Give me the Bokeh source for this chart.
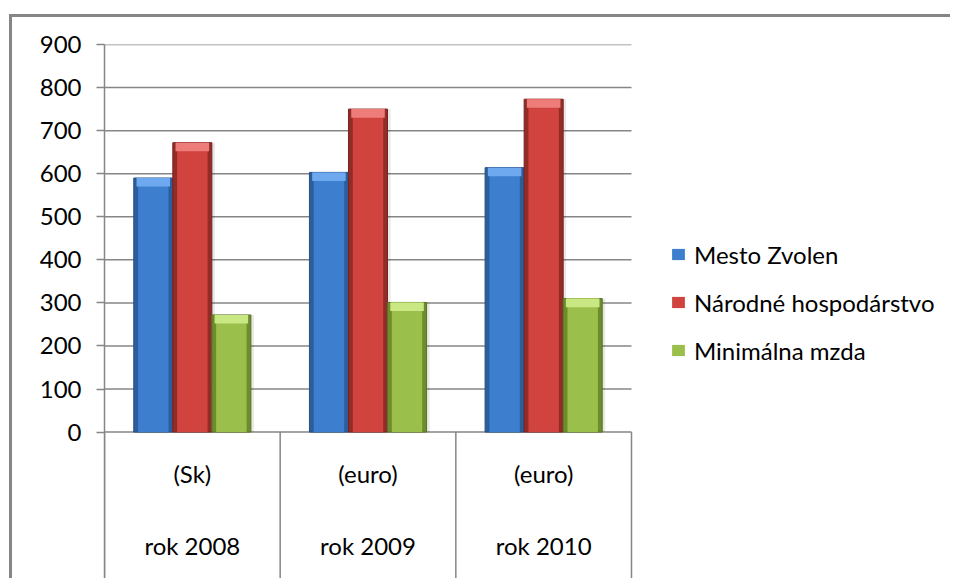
from bokeh.plotting import figure
from bokeh.models import (Range1d, FixedTicker, LinearAxis, Legend, LegendItem,
                          ColumnDataSource, InlineStyleSheet)
from bokeh.core.properties import value
from bokeh.embed import file_html
from bokeh.resources import INLINE

# ---- data ----
units = ["(Sk)", "(euro)", "(euro)"]
years = ["rok 2008", "rok 2009", "rok 2010"]
series_names = ["Mesto Zvolen", "Národné hospodárstvo", "Minimálna mzda"]
mesto_zvolen = [590, 603, 614]
narodne_hosp = [672, 750, 773]
minimalna_mzda = [272, 301, 310]
y_ticks = [0, 100, 200, 300, 400, 500, 600, 700, 800, 900]

series_values = [mesto_zvolen, narodne_hosp, minimalna_mzda]

# ---- styles / layout ----
edge_cols = ["#2C5E9C", "#922C29", "#6C8C2E"]
body_cols = ["#3E7ECE", "#D1433F", "#9BBF4B"]
cap_cols = ["#6EA9EF", "#EE7C78", "#C9E884"]
outline_cols = ["#244E82", "#7A2220", "#58741F"]
GREY = "#868686"
FONT = "Lato"
Y_MIN = -340          # frame continues below 0 for the category "table"
X_MAX = 9.632         # frame continues right to hold the legend
UNIT_ROW_Y = -96      # vertical position of the unit row
YEAR_ROW_Y = -263     # vertical position of the year row

centers = [1 + 2 * i for i in range(len(years))]   # group centres
bounds = [0] + [c + 1 for c in centers]              # category boundaries
bw = 2 / 4.5                                        # bar width (gap 150%)
offsets = [-bw, 0.0, bw]

p = figure(width=950, height=578, x_range=Range1d(0, X_MAX), y_range=Range1d(Y_MIN, 900),
           output_backend="svg", toolbar_location=None,
           x_axis_type=None, y_axis_type=None,
           min_border_left=104, min_border_right=0,
           min_border_top=44, min_border_bottom=0)
p.outline_line_color = None
p.background_fill_color = "white"
p.border_fill_color = "white"
p.stylesheets = [InlineStyleSheet(css="""
:host { position: relative; }
:host::before { content: ""; position: absolute; left: 9px; top: 14px; right: 0; bottom: 0;
  border-left: 3px solid #868686; border-top: 3px solid #868686;
  pointer-events: none; z-index: 10; }
""")]

# y axis
yax = LinearAxis(ticker=FixedTicker(ticks=y_ticks, minor_ticks=[]),
                 axis_line_color=GREY, axis_line_width=1.5,
                 major_tick_line_color=GREY, major_tick_line_width=1.5,
                 major_tick_in=0, major_tick_out=8,
                 minor_tick_line_color=None,
                 major_label_text_font=FONT, major_label_text_font_size="24px",
                 major_label_text_color="#000000", major_label_standoff=15)
p.add_layout(yax, "left")

# horizontal gridlines across the category area only
p.segment(x0=[0] * len(y_ticks), y0=y_ticks, x1=[bounds[-1]] * len(y_ticks), y1=y_ticks,
          line_color=GREY, line_width=1.5)

# category table: separators + labels
p.segment(x0=bounds, y0=[0] * len(bounds), x1=bounds, y1=[Y_MIN] * len(bounds),
          line_color=GREY, line_width=1.5)
p.text(x=centers, y=[UNIT_ROW_Y] * len(centers), text=units,
       text_font=value(FONT), text_font_size="24px", text_color="#000000",
       text_align="center", text_baseline="middle")
p.text(x=centers, y=[YEAR_ROW_Y] * len(centers), text=years,
       text_font=value(FONT), text_font_size="24px", text_color="#000000",
       text_align="center", text_baseline="middle")

# bars
items = []
for j, vals in enumerate(series_values):
    xs = [c + offsets[j] for c in centers]
    src = ColumnDataSource(dict(
        x=xs, xs=[x + 0.035 for x in xs], top=vals,
        cap_bottom=[v - 20 for v in vals]))
    p.vbar(x="xs", top="top", bottom=0, width=bw, source=src,
           fill_color="#000000", fill_alpha=0.09, line_color=None)
    p.vbar(x="x", top="top", bottom=0, width=bw, source=src,
           fill_color=edge_cols[j], line_color=outline_cols[j], line_width=1)
    body = p.vbar(x="x", top="top", bottom=0, width=bw * 0.78, source=src,
                  fill_color=body_cols[j], line_color=None)
    p.vbar(x="x", top="top", bottom="cap_bottom", width=bw * 0.86, source=src,
           fill_color=cap_cols[j], line_color=None)
    items.append(LegendItem(label=series_names[j], renderers=[body]))

legend = Legend(items=items, location=(566, 213), orientation="vertical",
                label_text_font=FONT, label_text_font_size="24px",
                label_text_color="#000000",
                glyph_width=16, glyph_height=14, label_height=30,
                label_standoff=8, spacing=18, padding=0, margin=0,
                border_line_color=None, background_fill_alpha=0)
p.add_layout(legend)

open("out.html", "w").write(file_html(p, INLINE))
